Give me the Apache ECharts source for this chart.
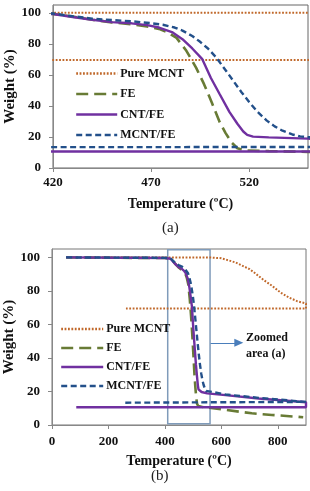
<!DOCTYPE html>
<html>
<head>
<meta charset="utf-8">
<script src="https://cdn.jsdelivr.net/npm/echarts@6/dist/echarts.min.js"></script>
<style>
html,body{margin:0;padding:0;background:#fff;}
#c{width:310px;height:491px;}
</style>
</head>
<body>
<div id="c"></div>
<script>
// ---- data ----
const seriesNames = ['Pure MCNT', 'FE', 'CNT/FE', 'MCNT/FE'];
const pureMCNT = [[100,100],[300,100],[420,100],[550,100],[600,99.5],[650,97],[700,93],[720,90.5],[750,86.5],[780,83],[810,79],[840,76],[870,73.8],[900,72.5],[900,69.5],[262,69.5]];
const fe = [[50,100],[400,99.6],[420,99.3],[430,97.5],[440,95.5],[450,93.8],[460,92.5],[468,91.2],[474,89.6],[478,87.6],[483,83.8],[488,75.5],[493,64.5],[497,54],[501,42],[505,29.5],[508,22.5],[511,16.5],[514,12.7],[518,11.3],[530,10.9],[550,10.4],[615,9],[708,7],[779,6],[861,5],[890,4.6]];
const cntFe = [[50,100],[400,99.6],[420,99.2],[430,97.3],[440,95.5],[450,94],[460,93.2],[468,92],[474,90.5],[481,87.3],[486,83],[491,77],[496,70.3],[500.5,58],[505,47.5],[510,36],[514,28.5],[517,23.5],[519,21.3],[522,20.2],[530,19.7],[550,18.9],[615,17.8],[732,15.8],[900,13.6],[900,10.6],[86,10.6]];
const mcntFe = [[50,100],[400,99.7],[420,99.5],[430,97.8],[440,96.2],[450,95.3],[460,94.5],[470,93.3],[476,92.3],[482,90.5],[486,88.5],[491,85],[495,81.3],[499,77],[503,71.5],[508,63],[512,56],[516,49],[520,42.5],[524,36.5],[529,30.5],[533,26.8],[537,24],[542,21.6],[546,20.4],[550,19.8],[615,18.2],[732,16.2],[900,13.8],[900,13.3],[256,13.3]];
const zoomBoxX = [410, 560];
const zoomBoxY = [0.8, 104.5];
const arrowX = [562, 662];
const arrowY = 49;
const xRangeA = [420, 550], xIntervalA = 50;
const xRangeB = [0, 900], xIntervalB = 200;
const yRange = [0, 105], yInterval = 20;

// ---- styles ----
const FONT = "'Liberation Serif','Times New Roman',serif";
const styles = [
  {color:'#C0682A', width:2, type:[1.8,1.6]},
  {color:'#687B35', width:2.6, type:[12,6]},
  {color:'#7030A0', width:2.4, type:'solid'},
  {color:'#23508A', width:2.4, type:[6,3.5]}
];
const datas = [pureMCNT, fe, cntFe, mcntFe];

const axisLineStyle = {lineStyle:{color:'#888', width:1}};
function xAxis(gi, range, interval, margin, gap){
  return {type:'value', gridIndex:gi, min:range[0], max:range[1], interval:interval,
    axisLine:{show:true, ...axisLineStyle}, axisTick:{show:true, length:4, lineStyle:{color:'#888'}},
    splitLine:{show:false},
    axisLabel:{showMaxLabel:false, margin:margin, fontFamily:FONT, fontWeight:'bold', fontSize:13, color:'#111'},
    name:'Temperature (ºC)', nameLocation:'middle', nameGap:gap, nameMoveOverlap:false,
    nameTextStyle:{fontFamily:FONT, fontWeight:'bold', fontSize:14, color:'#111'}};
}
function yAxis(gi){
  return {type:'value', gridIndex:gi, min:yRange[0], max:yRange[1], interval:yInterval,
    axisLine:{show:true, ...axisLineStyle}, axisTick:{show:true, length:4, lineStyle:{color:'#888'}},
    splitLine:{show:false},
    axisLabel:{showMaxLabel:false, margin:12, fontFamily:FONT, fontWeight:'bold', fontSize:13, color:'#111'},
    name:'Weight (%)', nameLocation:'middle', nameGap:35, nameRotate:90, nameMoveOverlap:false,
    nameTextStyle:{fontFamily:FONT, fontWeight:'bold', fontSize:15, color:'#111'}};
}

const series = [];
[0,1].forEach(gi => {
  seriesNames.forEach((n, i) => {
    series.push({
      name:n, type:'line', xAxisIndex:gi, yAxisIndex:gi, data:datas[i],
      symbol:'none', showSymbol:false, smooth:false, clip:true, animation:false,
      lineStyle:{color:styles[i].color, width:styles[i].width, type:styles[i].type},
      itemStyle:{color:styles[i].color}, z:2+i
    });
  });
});
// zoom box + arrow in chart (b)
series.push({
  type:'line', xAxisIndex:1, yAxisIndex:1, data:[], symbol:'none', animation:false, silent:true,
  markArea:{silent:true, itemStyle:{color:'rgba(0,0,0,0)', borderColor:'#7F9BBA', borderWidth:1.5},
    data:[[{coord:[zoomBoxX[0], zoomBoxY[0]]},{coord:[zoomBoxX[1], zoomBoxY[1]]}]]},
  markLine:{silent:true, symbol:['none','triangle'], symbolSize:[8,9], label:{show:false},
    lineStyle:{color:'#4A7EBB', width:1, type:'solid'},
    data:[[{coord:[arrowX[0], arrowY]},{coord:[arrowX[1], arrowY]}]]},
  z:10
});

function legend(left, top, w, gap){
  return {show:true, orient:'vertical', left:left, top:top, padding:0, itemWidth:w, itemHeight:14, itemGap:gap,
    data:seriesNames, selectedMode:false,
    itemStyle:{opacity:0},
    lineStyle:{width:2.4},
    textStyle:{fontFamily:FONT, fontWeight:'bold', fontSize:12, color:'#111', padding:[0,0,0,-2]}};
}

const chart = echarts.init(document.getElementById('c'), null, {renderer:'canvas'});
chart.setOption({
  backgroundColor:'#fff',
  animation:false,
  grid:[
    {left:53, top:5, width:255, height:163, show:true, borderColor:'#666', borderWidth:1, backgroundColor:'transparent', outerBoundsMode:'none', containLabel:false},
    {left:52, top:249, width:254, height:176, show:true, borderColor:'#777', borderWidth:1, backgroundColor:'transparent', outerBoundsMode:'none', containLabel:false}
  ],
  xAxis:[xAxis(0, xRangeA, xIntervalA, 8, 29), xAxis(1, xRangeB, xIntervalB, 10, 29)],
  yAxis:[yAxis(0), yAxis(1)],
  legend:[legend(75, 67.5, 41, 8.5), legend(60, 323, 42, 7)],
  series:series,
  graphic:[
    {type:'text', left:162, top:221, style:{text:'(a)', font:"15px 'Liberation Serif', serif", fill:'#222'}},
    {type:'text', left:151, top:469, style:{text:'(b)', font:"15px 'Liberation Serif', serif", fill:'#222'}},
    {type:'text', left:246, top:330, style:{text:'Zoomed\narea (a)', font:"bold 12px 'Liberation Serif', serif", fill:'#111', lineHeight:16}}
  ]
});
</script>
</body>
</html>
